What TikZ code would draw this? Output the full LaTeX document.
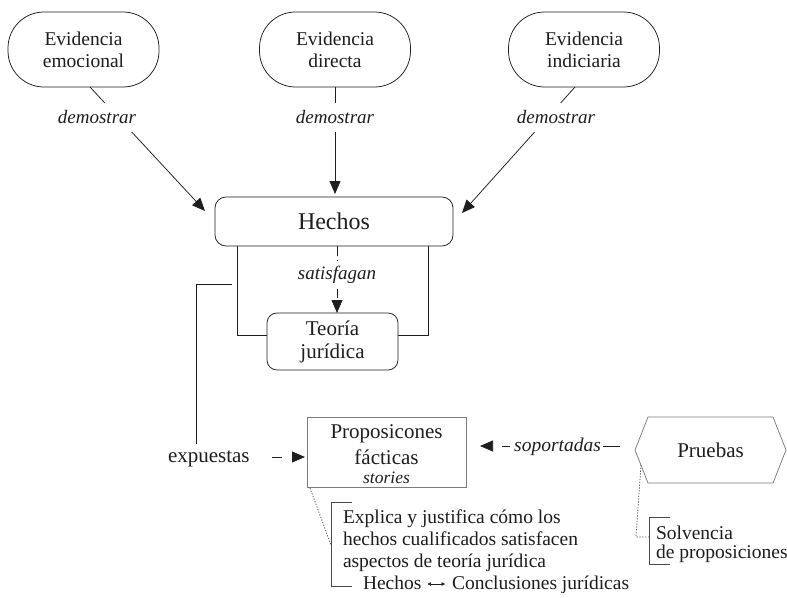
\documentclass[tikz,border=0pt]{standalone}
\usepackage{fontspec}
\setmainfont{Liberation Serif}
\usetikzlibrary{arrows.meta,shapes.symbols,calc}

\definecolor{ink}{HTML}{1E1E1E}
\definecolor{frame}{HTML}{7C7C7C}
\definecolor{brackc}{HTML}{4A4A4A}

\begin{document}
\begin{tikzpicture}[x=1pt,y=-1pt,
  every node/.style={text=ink, inner sep=0pt, outer sep=0pt},
  link/.style={draw=ink, line width=0.75pt},
  tipB/.style={-{Triangle[length=13pt,width=11pt]}},
  evid/.style={draw=ink, line width=0.75pt, rounded corners=36pt,
    minimum width=151pt, minimum height=75pt, align=center,
    font=\fontsize{19.5}{22}\selectfont},
  verb/.style={font=\fontsize{19}{22}\selectfont\itshape, fill=white,
    inner xsep=2pt, inner ysep=8pt},
  hbox/.style={draw=ink, line width=0.75pt, rounded corners=11pt,
    minimum width=238pt, minimum height=49pt, font=\fontsize{24}{28}\selectfont},
  tbox/.style={draw=ink, line width=0.75pt, rounded corners=10pt,
    minimum width=131pt, minimum height=57pt, align=center,
    font=\fontsize{21}{23}\selectfont},
  pbox/.style={draw=frame, line width=0.75pt, minimum width=159pt, minimum height=70pt},
  hexa/.style={draw=frame, line width=0.75pt, signal, signal to=west and east,
    signal pointer angle=137, minimum width=151pt, minimum height=66pt,
    font=\fontsize{21}{24}\selectfont},
  big/.style={font=\fontsize{21}{24}\selectfont},
  note/.style={font=\fontsize{19.5}{22}\selectfont},
  brk/.style={draw=brackc, line width=0.75pt},
  dotline/.style={draw=brackc, line width=0.75pt, dash pattern=on 1.2pt off 1.6pt}
]
\useasboundingbox (0,0) rectangle (787,597);
\fill[white] (0,0) rectangle (787,597);

% evidence sources
\node[evid] (e1) at (83.5,49.5) {Evidencia\\emocional};
\node[evid] (e2) at (335,49.5) {Evidencia\\directa};
\node[evid] (e3) at (584,49.5) {Evidencia\\indiciaria};

% facts and legal theory
\node[hbox] (hechos) at (334,221.5) {Hechos};
\node[tbox] (teoria) at (332.5,341.5) {Teoría\\jurídica};

% arrow ends beside the facts box
\coordinate (t1) at (205,211);
\coordinate (t2) at (335,194);
\coordinate (t3) at (462,213);

\draw[link,tipB] ($(e1.south)+(6.5,0)$) -- (t1);
\draw[link,tipB] (e2.south) -- (t2);
\draw[link,tipB] ($(e3.south)+(-9,0)$) -- (t3);
\node[verb] (d1) at (97,117.5) {demostrar};
\node[verb] (d2) at (335,117.5) {demostrar};
\node[verb] (d3) at (556,117.5) {demostrar};

% frame joining facts and theory
\draw[link] ($(hechos.south west)+(22,0)$) |- ($(teoria.west)+(0,-6.5)$);
\draw[link] ($(hechos.south east)+(-25,0)$) |- ($(teoria.east)+(0,-6.5)$);
\draw[link, dash pattern=on 10pt off 4pt, -{Triangle[length=13pt,width=11pt]}]
  ($(hechos.south)+(3,0)$) -- ($(teoria.north)+(4.5,0)$);
\node[verb, inner ysep=5pt] (sat) at (337,275) {satisfagan};

% factual propositions
\node[pbox] (prop) at (386.5,452) {};
\node[big, anchor=base] (p1) at (386.5,438) {Proposicones};
\node[big, anchor=base] (p2) at (386.5,464) {fácticas};
\node[font=\fontsize{17.5}{20}\selectfont\itshape, anchor=base] (p3) at (386.5,483) {stories};

% exposition link
\node[big, anchor=base west] (exp) at (168,462) {expuestas};
\coordinate (src) at (232,284);
\draw[link] (src) -| ($(exp.north)+(-12,-6)$);
\draw[link, tipB, dash pattern=on 10pt off 30pt]
  ($(exp.base east)+(22,-5)$) -- ($(prop.west)+(-2,5)$);

% evidence items
\node[hexa] (pruebas) at (710.5,450) {Pruebas};
\draw[link, tipB, dash pattern=on 17pt off 93pt on 8pt off 40pt]
  ($(pruebas.west)+(-15,-4)$) -- ($(prop.east)+(14,-6)$);
\node[font=\fontsize{19.5}{22}\selectfont\itshape, anchor=base] (sop) at (557.5,451) {soportadas};

% explanation under the propositions
\coordinate (bx) at (331,545);
\draw[brk] (352,502) -- (331,502) -- (331,586) -- (352,586);
\draw[dotline] ($(prop.south west)+(3,1)$) -- (bx);
\node[note, anchor=base west] (x1) at (343,523) {Explica y justifica cómo los};
\node[note, anchor=base west] (x2) at (343,545) {hechos cualificados satisfacen};
\node[note, anchor=base west] (x3) at (343,567) {aspectos de teoría jurídica};
\node[note, anchor=base west] (hh) at (363,589) {Hechos};
\node[note, anchor=base west] (cj) at (452,589) {Conclusiones jurídicas};
\draw[draw=ink, line width=0.6pt,
  {Triangle[length=3.5pt,width=3.5pt]}-{Triangle[length=3.5pt,width=3.5pt]}]
  ($(hh.base east)+(6,-5)$) -- ($(cj.base west)+(-7,-5)$);

% solvency note under the evidence
\coordinate (sb) at (649,537);
\draw[brk] (670,517) -- (649,517) -- (649,564) -- (670,564);
\draw[dotline] ($(pruebas.west)+(6,15)$) -- (636,537) -- (sb);
\node[note, anchor=base west] (s1) at (656,539) {Solvencia};
\node[note, anchor=base west] (s2) at (656,558) {de proposiciones};
\end{tikzpicture}
\end{document}
